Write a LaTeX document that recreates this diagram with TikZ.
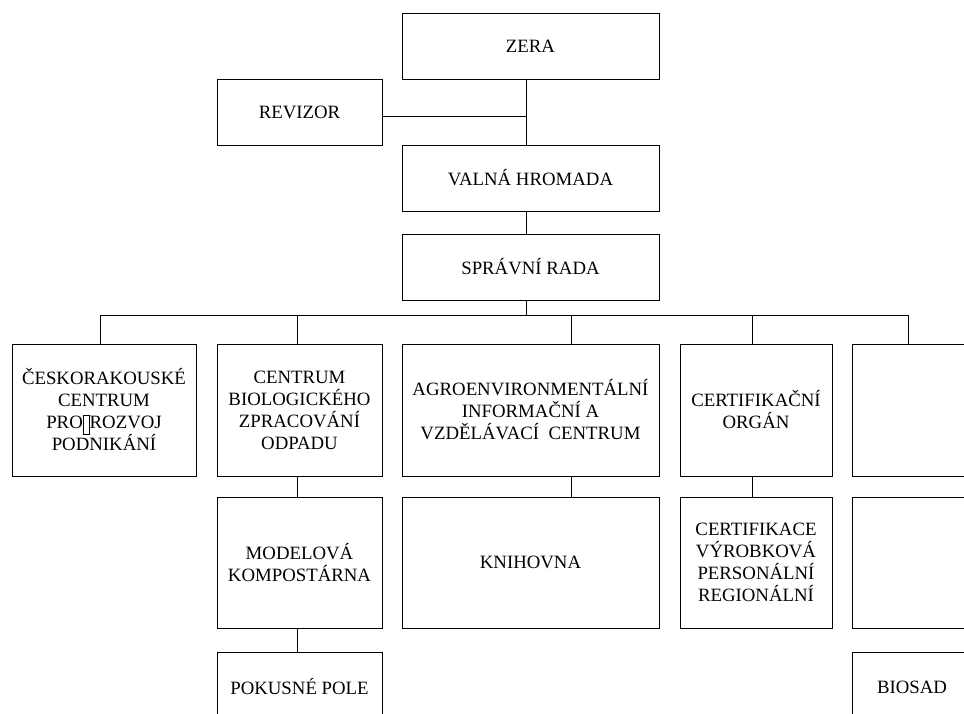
\documentclass[tikz,border=0pt]{standalone}
\usepackage{fontspec}
\setmainfont{Liberation Serif}
\newcommand{\chybi}{{\setlength{\fboxsep}{0pt}\setlength{\fboxrule}{0.6pt}\fbox{\rule[-0.25em]{0pt}{0.95em}\hspace{0.3em}}}}
\begin{document}
\begin{tikzpicture}[x=1pt,y=-1pt]
        \tikzstyle{box}=[draw, line width=0.8pt, inner sep=0pt, align=center, font=\fontsize{18.8}{22}\selectfont]
        \tikzstyle{topbox}=[box, minimum width=257pt, minimum height=66pt]
        \tikzstyle{spoj}=[line width=0.7pt]
        \useasboundingbox (0,0) rectangle (964,713);
        % vedeni
        \node[topbox] (zera) at (530.5,46) {ZERA};
        \node[box, minimum width=165pt, minimum height=66pt] (revizor) at (299.5,112) {REVIZOR};
        \node[topbox] (valna) at (530.5,178) {VALNÁ HROMADA};
        \node[topbox] (sprava) at (530.5,267) {SPRÁVNÍ RADA};
        % stredisla
        \node[box, minimum width=184pt, minimum height=132pt] (ceskorak) at (104,410) {ČESKORAKOUSKÉ\\CENTRUM\\PRO\chybi ROZVOJ\\PODNIKÁNÍ};
        \node[box, minimum width=165pt, minimum height=132pt] (cbzo) at (299.5,410) {CENTRUM\\BIOLOGICKÉHO\\ZPRACOVÁNÍ\\ODPADU};
        \node[box, minimum width=257pt, minimum height=132pt] (agro) at (530.5,410) {AGROENVIRONMENTÁLNÍ\\INFORMAČNÍ A\\VZDĚLÁVACÍ\ \ CENTRUM};
        \node[box, minimum width=152pt, minimum height=132pt] (certorg) at (756,410) {CERTIFIKAČNÍ\\ORGÁN};
        \node[box, minimum width=120pt, minimum height=132pt] (prazdny) at (912,410) {};
        % oddeleni
        \node[box, minimum width=165pt, minimum height=131pt] (modelova) at (299.5,562.5) {MODELOVÁ\\KOMPOSTÁRNA};
        \node[box, minimum width=257pt, minimum height=131pt] (knihovna) at (530.5,562.5) {KNIHOVNA};
        \node[box, minimum width=152pt, minimum height=131pt] (certif) at (756,562.5) {CERTIFIKACE\\VÝROBKOVÁ\\PERSONÁLNÍ\\REGIONÁLNÍ};
        \node[box, minimum width=120pt, minimum height=131pt] (prazdny2) at (912,562.5) {};
        \node[box, minimum width=165pt, minimum height=70pt] (pokusne) at (299.5,687) {POKUSNÉ POLE};
        \node[box, minimum width=120pt, minimum height=70pt] (biosad) at (912,687) {BIOSAD};
        % spojnice
        \coordinate (trunk) at (526,0);
        \coordinate (rev) at ([yshift=-4pt]revizor.east);
        \draw[spoj] (trunk |- zera.south) -- (trunk |- valna.north);
        \draw[spoj] (rev) -- (trunk |- rev);
        \draw[spoj] (trunk |- valna.south) -- (trunk |- sprava.north);
        \foreach \n/\x in {ceskorak/100, cbzo/297, agro/571, certorg/752, prazdny/908} {
            \coordinate (d\n) at (\x,315);
            \draw[spoj] (d\n) -- (d\n |- \n.north);
        }
        \draw[spoj] (dceskorak) -- (dprazdny);
        \draw[spoj] (trunk |- sprava.south) -- (trunk |- dceskorak);
        \foreach \a/\b/\d in {cbzo/modelova/cbzo, agro/knihovna/agro, certorg/certif/certorg, modelova/pokusne/cbzo}
            \draw[spoj] (d\d |- \a.south) -- (d\d |- \b.north);
\end{tikzpicture}
\end{document}
